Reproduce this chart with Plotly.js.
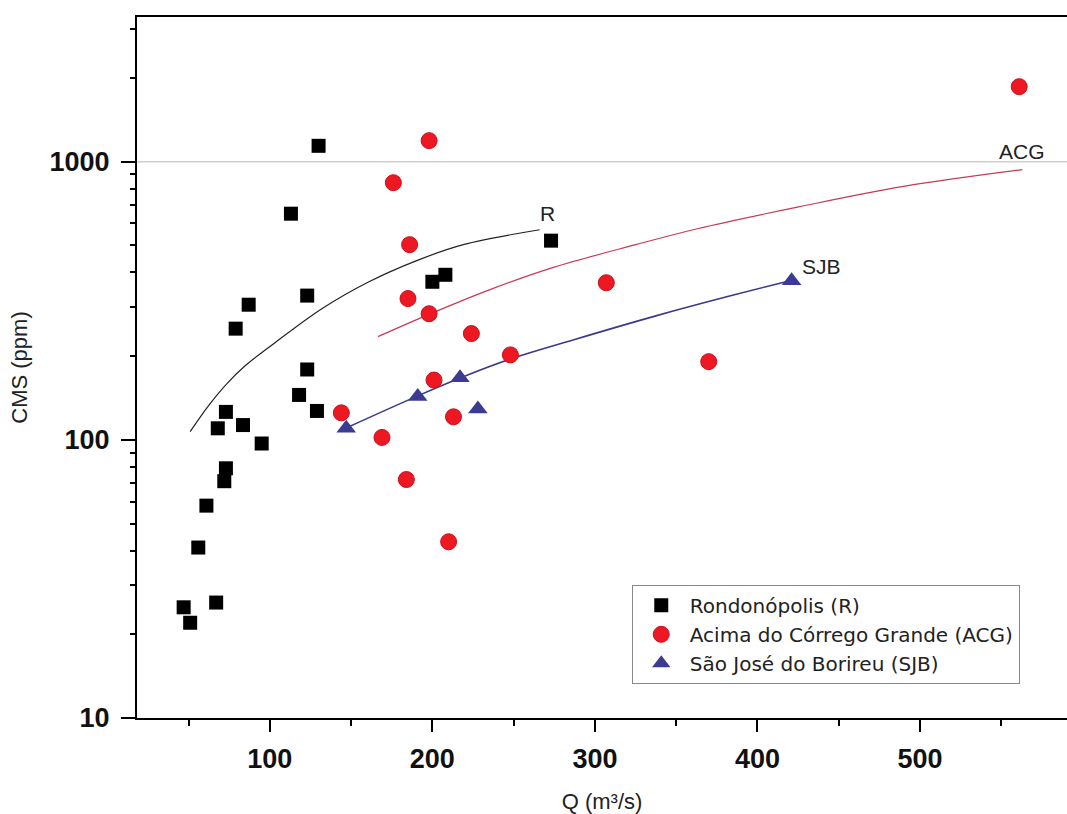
<!DOCTYPE html>
<html>
<head>
<meta charset="utf-8">
<script src="https://cdn.plot.ly/plotly-3.0.1.min.js"></script>
<style>html,body{margin:0;padding:0;background:#fff;}#chart{width:1067px;height:814px;}</style>
</head>
<body>
<div id="chart"></div>
<script>
// Rondonópolis (R)
const rQ   = [47, 51, 67, 56, 61, 68, 72, 73, 73, 79, 83.5, 87, 95, 113, 118, 123, 123, 129, 130, 200, 208, 273];
const rCMS = [25, 22, 26, 41, 58, 110, 71, 79, 126, 251, 113, 306, 97, 650, 145, 330, 179, 127, 1140, 370, 392, 520];
// Acima do Córrego Grande (ACG)
const acgQ   = [561, 198, 176, 186, 185, 198, 224, 248, 201, 307, 370, 144, 169, 213, 184, 210];
const acgCMS = [1860, 1190, 840, 503, 322, 284, 241, 202, 164, 367, 191, 125, 102, 121, 72, 43];
// São José do Borireu (SJB)
const sjbQ   = [147, 191, 217, 228, 421];
const sjbCMS = [110, 143, 167, 129, 373];
// Fitted curves
const rFitQ   = [51, 62, 73.5, 85, 103, 132, 161, 190, 219, 266];
const rFitCMS = [107, 132, 159, 185, 223, 296, 370, 440, 503, 569];
const acgFitQ   = [166.5, 197.6, 235, 274, 325, 363, 426, 489, 563];
const acgFitCMS = [235, 282, 346, 416, 503, 574, 689, 813, 936];
const sjbFitQ   = [148, 190, 219, 249, 287, 337.5, 384, 420];
const sjbFitCMS = [111, 143, 168.5, 196, 229, 279, 330, 373];
// Labels
const seriesNames = ['Rondonópolis (R)', 'Acima do Córrego Grande (ACG)', 'São José do Borireu (SJB)'];
const fitLabels = ['R', 'ACG', 'SJB'];
const gridValue = 1000;

const FONT = 'Liberation Sans, Arial, sans-serif';
const last = a => a[a.length - 1];

const traces = [
  {x: rFitQ, y: rFitCMS, mode: 'lines', line: {color: '#222', width: 1.2, shape: 'spline'}, showlegend: false, hoverinfo: 'skip'},
  {x: acgFitQ, y: acgFitCMS, mode: 'lines', line: {color: '#c83a52', width: 1.2, shape: 'spline'}, showlegend: false, hoverinfo: 'skip'},
  {x: sjbFitQ, y: sjbFitCMS, mode: 'lines', line: {color: '#3a3a8c', width: 1.6, shape: 'spline'}, showlegend: false, hoverinfo: 'skip'},
  {x: rQ, y: rCMS, mode: 'markers', name: seriesNames[0],
   marker: {symbol: 'square', size: 14, color: '#000'}},
  {x: acgQ, y: acgCMS, mode: 'markers', name: seriesNames[1],
   marker: {symbol: 'circle', size: 16, color: '#ee1822', line: {color: '#c8101a', width: 1}}},
  {x: sjbQ, y: sjbCMS, mode: 'markers', name: seriesNames[2],
   marker: {symbol: 'triangle-up', size: 17, color: '#3b3b94'}}
];

const layout = {
  width: 1067, height: 814,
  margin: {l: 137, r: 0, t: 17, b: 96},
  paper_bgcolor: '#fff', plot_bgcolor: '#fff',
  font: {family: FONT, color: '#000'},
  showlegend: true,
  legend: {
    x: 0.532, y: 0.19, xanchor: 'left', yanchor: 'top',
    bgcolor: '#fff', bordercolor: '#888', borderwidth: 1,
    font: {family: 'DejaVu Sans, sans-serif', size: 20, color: '#222'},
    tracegroupgap: 0, itemwidth: 47
  },
  xaxis: {
    range: [18.3, 590.4], showgrid: false, zeroline: false,
    showline: true, linecolor: '#000', linewidth: 2, mirror: true,
    ticks: 'outside', ticklen: 12, tickwidth: 2, tickcolor: '#000',
    tick0: 0, dtick: 100, ticklabelstandoff: 4,
    tickfont: {family: FONT, size: 27, weight: 'bold', color: '#111'},
    minor: {ticks: 'outside', ticklen: 6, tickwidth: 2, tickcolor: '#000', dtick: 50, tick0: 0, showgrid: false},
    title: {text: 'Q (m³/s)', font: {family: FONT, size: 22, color: '#222'}, standoff: 22}
  },
  yaxis: {
    type: 'log', range: [1, 3.52], showgrid: false, zeroline: false,
    showline: true, linecolor: '#000', linewidth: 2,
    ticks: 'outside', ticklen: 14, tickwidth: 2, tickcolor: '#000',
    dtick: 1, tickformat: 'd', ticklabelstandoff: 6,
    tickfont: {family: FONT, size: 27, weight: 'bold', color: '#111'},
    minor: {ticks: 'outside', ticklen: 5, tickwidth: 2, tickcolor: '#000', dtick: 'D1', showgrid: false},
    title: {text: 'CMS (ppm)', font: {family: FONT, size: 22, color: '#222'}, standoff: 16}
  },
  shapes: [{type: 'line', xref: 'paper', x0: 0, x1: 1, yref: 'y', y0: gridValue, y1: gridValue,
            line: {color: '#cfcfcf', width: 1.5}, layer: 'below'}],
  annotations: [
    {x: last(rFitQ), y: Math.log10(last(rFitCMS)), text: fitLabels[0], showarrow: false, xanchor: 'left', yanchor: 'bottom', xshift: -2, yshift: 3, font: {family: FONT, size: 21, color: '#222'}},
    {x: last(acgFitQ), y: Math.log10(last(acgFitCMS)), text: fitLabels[1], showarrow: false, xanchor: 'center', yanchor: 'bottom', xshift: 0, yshift: 5, font: {family: FONT, size: 21, color: '#222'}},
    {x: last(sjbFitQ), y: Math.log10(last(sjbFitCMS)), text: fitLabels[2], showarrow: false, xanchor: 'left', yanchor: 'bottom', xshift: 10, yshift: 1, font: {family: FONT, size: 21, color: '#222'}}
  ]
};

Plotly.newPlot('chart', traces, layout, {displayModeBar: false, staticPlot: true});
</script>
</body>
</html>
